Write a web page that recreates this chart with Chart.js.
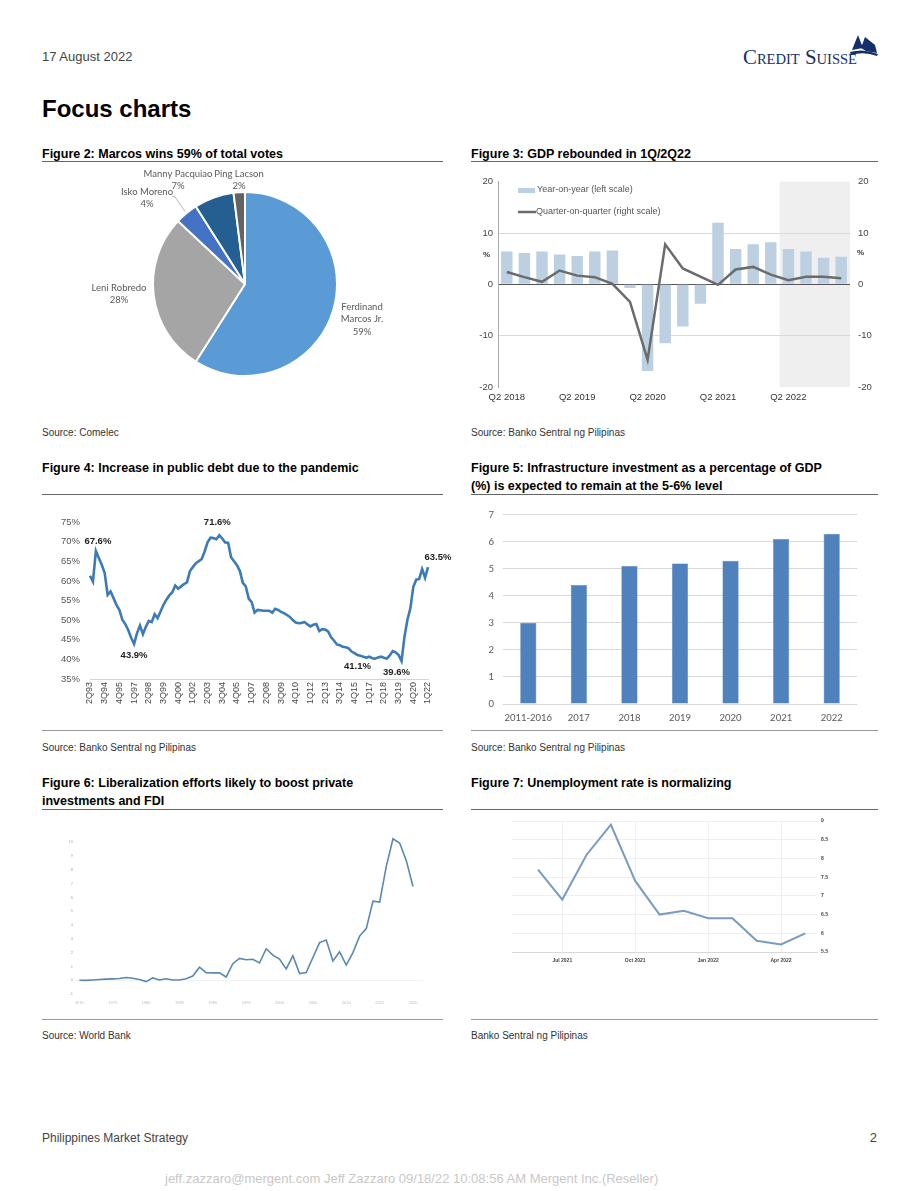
<!DOCTYPE html>
<html>
<head>
<meta charset="utf-8">
<script src="https://cdn.jsdelivr.net/npm/chart.js@4.4.0/dist/chart.umd.min.js"></script>
<style>
    body { margin: 0; background: #fff; font-family: "Liberation Sans", Arial, sans-serif; }
    #page { position: relative; width: 920px; height: 1191px; overflow: hidden; }
    .t { position: absolute; white-space: nowrap; }
    .fig { position: absolute; font-weight: bold; font-size: 12.5px; line-height: 18px; color: #000; white-space: nowrap; }
    .rule { position: absolute; height: 1px; background: #666; }
    .sep { position: absolute; height: 1px; background: #999; }
    .src { position: absolute; font-size: 10px; color: #333; white-space: nowrap; }
    canvas { position: absolute; }
</style>
</head>
<body>
<div id="page">
    <div class="t" style="left:42px;top:49px;font-size:13px;color:#444;">17 August 2022</div>
    <svg style="position:absolute;left:735px;top:30px;" width="150" height="42">
        <text x="8" y="34" font-family="Liberation Serif, serif" font-size="20" fill="#13306b" style="font-variant:small-caps" textLength="114" lengthAdjust="spacingAndGlyphs">Credit Suisse</text>
        <path d="M117 20 L123 5 L128 18 Z" fill="#13306b"/>
        <path d="M126 18 L130 7 L140 15 L142 23 L131 21 Z" fill="#13306b"/>
        <path d="M115 22 Q129 18 143 24 L142 26 Q129 21 116 25 Z" fill="#13306b"/>
    </svg>
    <div class="t" style="left:42px;top:95px;font-size:24px;font-weight:bold;color:#000;">Focus charts</div>

    <div class="fig" style="left:42px;top:145px;">Figure 2: Marcos wins 59% of total votes</div>
    <div class="rule" style="left:42px;top:161px;width:401px;"></div>
    <div class="fig" style="left:471px;top:145px;">Figure 3: GDP rebounded in 1Q/2Q22</div>
    <div class="rule" style="left:471px;top:161px;width:407px;"></div>
    <canvas id="pieChart" width="400" height="245" style="left:42px;top:165px;"></canvas>
    <canvas id="gdpChart" width="410" height="240" style="left:471px;top:168px;"></canvas>
    <div class="src" style="left:42px;top:427px;">Source: Comelec</div>
    <div class="src" style="left:471px;top:427px;">Source: Banko Sentral ng Pilipinas</div>

    <div class="fig" style="left:42px;top:459px;">Figure 4: Increase in public debt due to the pandemic</div>
    <div class="rule" style="left:42px;top:494px;width:401px;"></div>
    <div class="fig" style="left:471px;top:459px;">Figure 5: Infrastructure investment as a percentage of GDP<br>(%) is expected to remain at the 5-6% level</div>
    <div class="rule" style="left:471px;top:494px;width:407px;"></div>
    <canvas id="debtChart" width="420" height="225" style="left:42px;top:505px;"></canvas>
    <canvas id="infraChart" width="410" height="230" style="left:471px;top:500px;"></canvas>
    <div class="sep" style="left:42px;top:730px;width:401px;"></div>
    <div class="sep" style="left:471px;top:730px;width:407px;"></div>
    <div class="src" style="left:42px;top:742px;">Source: Banko Sentral ng Pilipinas</div>
    <div class="src" style="left:471px;top:742px;">Source: Banko Sentral ng Pilipinas</div>

    <div class="fig" style="left:42px;top:774px;">Figure 6: Liberalization efforts likely to boost private<br>investments and FDI</div>
    <div class="rule" style="left:42px;top:809px;width:401px;"></div>
    <div class="fig" style="left:471px;top:774px;">Figure 7: Unemployment rate is normalizing</div>
    <div class="rule" style="left:471px;top:809px;width:407px;"></div>
    <canvas id="fdiChart" width="400" height="190" style="left:42px;top:830px;"></canvas>
    <canvas id="unempChart" width="380" height="160" style="left:471px;top:812px;"></canvas>
    <div class="sep" style="left:42px;top:1019px;width:401px;"></div>
    <div class="sep" style="left:471px;top:1019px;width:407px;"></div>
    <div class="src" style="left:42px;top:1030px;">Source: World Bank</div>
    <div class="src" style="left:471px;top:1030px;">Banko Sentral ng Pilipinas</div>

    <div class="t" style="left:42px;top:1131px;font-size:12px;color:#444;">Philippines Market Strategy</div>
    <div class="t" style="right:43px;top:1130px;font-size:13px;color:#444;">2</div>
    <div class="t" style="left:165px;top:1171px;font-size:13px;color:#c8c8c8;">jeff.zazzaro@mergent.com Jeff Zazzaro 09/18/22 10:08:56 AM Mergent Inc.(Reseller)</div>
</div>

<script>
// Figure 2 - votes
const voteNames = ["Ferdinand Marcos Jr.", "Leni Robredo", "Isko Moreno", "Manny Pacquiao", "Ping Lacson"];
const voteShares = [59, 28, 4, 7, 2];

// Figure 3 - GDP
const gdpQuarters = ["Q2 2018", "Q3 2018", "Q4 2018", "Q1 2019", "Q2 2019", "Q3 2019", "Q4 2019", "Q1 2020",
    "Q2 2020", "Q3 2020", "Q4 2020", "Q1 2021", "Q2 2021", "Q3 2021", "Q4 2021", "Q1 2022",
    "Q2 2022", "Q3 2022", "Q4 2022", "Q1 2023"];
const gdpYoy = [6.4, 6.1, 6.4, 5.8, 5.5, 6.4, 6.6, -0.7, -16.9, -11.5, -8.2, -3.8, 12.0, 6.9, 7.8, 8.2, 6.9, 6.4, 5.2, 5.4];
const gdpQoq = [2.4, 1.4, 0.5, 2.7, 1.7, 1.4, 0.1, -3.4, -14.7, 7.8, 3.1, 1.5, -0.1, 2.9, 3.4, 1.9, 0.8, 1.5, 1.5, 1.2];
const gdpShadeFrom = "Q2 2022";

// Figure 4 - public debt, % of GDP, quarterly 2Q93..1Q22
const debtQuarters = [];
for (let k = 0; k < 116; k++) {
    const q = (1 + k) % 4 + 1;
    const yr = 1993 + Math.floor((1 + k) / 4);
    debtQuarters.push(q + "Q" + String(yr % 100).padStart(2, "0"));
}
const debtValues = [61.3, 59.8, 67.6, 65.8, 64.1, 62.0, 56.4, 57.3, 55.6, 53.9,
    52.6, 50.1, 49.0, 47.5, 45.5, 43.9, 46.7, 48.6, 46.4, 48.3,
    49.8, 49.5, 51.5, 50.5, 52.2, 53.9, 55.2, 56.3, 57.1, 58.8,
    58.0, 58.6, 59.2, 59.6, 62.5, 63.5, 64.5, 65.0, 65.6, 67.5,
    69.8, 71.0, 70.9, 70.6, 71.6, 70.8, 69.8, 69.7, 66.0, 65.0,
    64.0, 62.5, 59.5, 58.6, 55.5, 54.6, 51.9, 52.6, 52.5, 52.4,
    52.4, 52.4, 51.9, 52.9, 52.6, 52.1, 51.8, 51.3, 50.8, 50.0,
    49.4, 49.2, 49.3, 49.5, 48.9, 48.4, 48.8, 49.0, 47.2, 47.7,
    47.6, 47.1, 45.7, 44.8, 43.8, 43.6, 43.2, 43.1, 42.8, 42.0,
    41.6, 41.1, 40.9, 40.7, 40.4, 40.7, 40.3, 40.2, 40.5, 40.7,
    40.4, 40.2, 41.0, 42.1, 41.8, 41.1, 39.6, 45.8, 50.1, 53.0,
    58.5, 60.3, 60.5, 63.0, 60.8, 63.5];
const debtMarked = [2, 15, 44, 91, 106, 115];

// Figure 5 - infrastructure spending, % of GDP
const infraYears = ["2011-2016", "2017", "2018", "2019", "2020", "2021", "2022"];
const infraShare = [3.0, 4.4, 5.1, 5.2, 5.3, 6.1, 6.3];

// Figure 6 - FDI net inflows (US$ bn)
const fdiYears = [];
for (let yr = 1970; yr <= 2020; yr++) fdiYears.push(yr);
const fdiValues = [0.0, -0.01, 0.02, 0.05, 0.08, 0.1, 0.12, 0.2, 0.14, 0.05,
    -0.1, 0.17, 0.02, 0.1, 0.01, 0.01, 0.1, 0.3, 0.94, 0.55,
    0.53, 0.54, 0.23, 1.2, 1.58, 1.48, 1.52, 1.25, 2.28, 1.82,
    1.53, 0.82, 1.77, 0.48, 0.55, 1.65, 2.73, 2.92, 1.39, 2.06,
    1.1, 2.0, 3.2, 3.74, 5.73, 5.66, 8.25, 10.26, 9.95, 8.67,
    6.8];
const fdiTickYears = [1970, 1975, 1980, 1985, 1990, 1995, 2000, 2005, 2010, 2015, 2020];

// Figure 7 - unemployment rate
const unempMonths = ["Jun 2021", "Jul 2021", "Aug 2021", "Sep 2021", "Oct 2021", "Nov 2021",
    "Dec 2021", "Jan 2022", "Feb 2022", "Mar 2022", "Apr 2022", "May 2022"];
const unempRate = [7.7, 6.9, 8.1, 8.9, 7.4, 6.5, 6.6, 6.4, 6.4, 5.8, 5.7, 6.0];
const unempTickMonths = ["Jul 2021", "Oct 2021", "Jan 2022", "Apr 2022"];

Chart.defaults.font.family = '"Liberation Sans", Arial, sans-serif';
Chart.defaults.animation = false;
Chart.defaults.responsive = false;
Chart.defaults.plugins.legend.display = false;
Chart.defaults.plugins.tooltip.enabled = false;

// ---------- Figure 2: pie ----------
const pieLabels = {
    id: "pieLabels",
    afterDraw(chart) {
        const ctx = chart.ctx;
        const arcs = chart.getDatasetMeta(0).data;
        const lines = [["Ferdinand", "Marcos Jr."], ["Leni Robredo"], ["Isko Moreno"], ["Manny Pacquiao"], ["Ping Lacson"]];
        const offsets = [[117, 35], [-126, 10], [-98, -86], [-67, -104], [-6, -104]];
        ctx.save();
        ctx.font = '9.5px Lato, "Liberation Sans", sans-serif';
        ctx.fillStyle = "#595959";
        ctx.textAlign = "center";
        ctx.textBaseline = "middle";
        arcs.forEach((arc, i) => {
            const txt = lines[i].concat([voteShares[i] + "%"]);
            const cx = arc.x + offsets[i][0];
            const cy = arc.y + offsets[i][1] - (txt.length - 1) * 6.25;
            txt.forEach((s, j) => ctx.fillText(s, cx, cy + j * 12.5));
        });
        // leader line for the small slice
        const a = arcs[2];
        const mid = (a.startAngle + a.endAngle) / 2;
        ctx.strokeStyle = "#a6a6a6";
        ctx.lineWidth = 0.8;
        ctx.beginPath();
        ctx.moveTo(a.x + Math.cos(mid) * (a.outerRadius + 2), a.y + Math.sin(mid) * (a.outerRadius + 2));
        ctx.lineTo(a.x - 70, a.y - 87);
        ctx.lineTo(a.x - 73, a.y - 88);
        ctx.stroke();
        ctx.restore();
    }
};

new Chart(document.getElementById("pieChart"), {
    type: "pie",
    data: {
        labels: voteNames,
        datasets: [{
            data: voteShares,
            backgroundColor: ["#5b9bd5", "#a5a5a5", "#4472c4", "#255e91", "#636363"],
            borderColor: "#fff",
            borderWidth: 2
        }]
    },
    options: {
        layout: { padding: { left: 110, right: 104, top: 26, bottom: 33 } }
    },
    plugins: [pieLabels]
});

// ---------- Figure 3: GDP ----------
const gdpExtras = {
    id: "gdpExtras",
    beforeDraw(chart) {
        const { ctx, chartArea, scales } = chart;
        const k = gdpQuarters.indexOf(gdpShadeFrom);
        const x0 = (scales.x.getPixelForValue(k - 1) + scales.x.getPixelForValue(k)) / 2;
        ctx.save();
        ctx.fillStyle = "#efefef";
        ctx.fillRect(x0, chartArea.top, chartArea.right - x0, chartArea.bottom - chartArea.top);
        ctx.restore();
    },
    afterDraw(chart) {
        const ctx = chart.ctx;
        ctx.save();
        ctx.fillStyle = "#bcd0e2";
        ctx.fillRect(47, 20, 17, 5);
        ctx.strokeStyle = "#6b6b6b";
        ctx.lineWidth = 2.5;
        ctx.beginPath();
        ctx.moveTo(47, 44);
        ctx.lineTo(65, 44);
        ctx.stroke();
        ctx.fillStyle = "#555";
        ctx.font = '9px "Liberation Sans", Arial, sans-serif';
        ctx.textBaseline = "middle";
        ctx.fillText("Year-on-year (left scale)", 66, 22);
        ctx.fillText("Quarter-on-quarter (right scale)", 65, 44);
        ctx.font = 'bold 8px "Liberation Sans", Arial, sans-serif';
        ctx.fillStyle = "#333";
        ctx.fillText("%", 12, 87);
        ctx.fillText("%", 386, 85);
        ctx.restore();
    }
};

new Chart(document.getElementById("gdpChart"), {
    data: {
        labels: gdpQuarters,
        datasets: [
            {
                type: "line",
                label: "Quarter-on-quarter (right scale)",
                data: gdpQoq,
                yAxisID: "y1",
                borderColor: "#6b6b6b",
                borderWidth: 2.5,
                pointRadius: 0,
                tension: 0,
                order: 0
            },
            {
                type: "bar",
                label: "Year-on-year (left scale)",
                data: gdpYoy,
                yAxisID: "y",
                backgroundColor: "#bcd0e2",
                barPercentage: 0.65,
                categoryPercentage: 1,
                order: 1
            }
        ]
    },
    options: {
        layout: { padding: { top: 9, left: 0, right: 0, bottom: 0 } },
        scales: {
            x: {
                grid: { display: false, drawTicks: false },
                border: { display: false },
                ticks: {
                    autoSkip: false, maxRotation: 0, padding: 5,
                    color: "#333", font: { size: 9.5 },
                    callback: (v, i) => (i % 4 === 0 ? gdpQuarters[i] : null)
                },
                afterFit: s => { s.height = 21; }
            },
            y: {
                position: "left", min: -20, max: 20,
                ticks: { stepSize: 10, padding: 5, color: "#444", font: { size: 9.5 } },
                grid: {
                    drawTicks: false,
                    color: c => (c.tick.value === 0 ? "#555" : (Math.abs(c.tick.value) === 20 ? "rgba(0,0,0,0)" : "#dadada"))
                },
                border: { color: "#aaa" },
                afterFit: s => { s.width = 27; }
            },
            y1: {
                position: "right", min: -20, max: 20,
                ticks: { stepSize: 10, padding: 8, color: "#444", font: { size: 9.5 } },
                grid: { display: false, drawTicks: false },
                border: { display: false },
                afterFit: s => { s.width = 31; }
            }
        }
    },
    plugins: [gdpExtras]
});

// ---------- Figure 4: public debt ----------
const debtNotes = {
    id: "debtNotes",
    afterDatasetsDraw(chart) {
        const { ctx, scales } = chart;
        const shift = { 2: [2, -10], 15: [0, 11], 44: [-2, -13], 91: [0, 11], 106: [-5, 11], 115: [10, -10] };
        ctx.save();
        ctx.font = 'bold 9.5px "Liberation Sans", Arial, sans-serif';
        ctx.fillStyle = "#222";
        ctx.textAlign = "center";
        ctx.textBaseline = "middle";
        debtMarked.forEach(i => {
            const x = scales.x.getPixelForValue(i) + shift[i][0];
            const y = scales.y.getPixelForValue(debtValues[i]) + shift[i][1];
            ctx.fillText(debtValues[i].toFixed(1) + "%", x, y);
        });
        ctx.restore();
    }
};

new Chart(document.getElementById("debtChart"), {
    type: "line",
    data: {
        labels: debtQuarters,
        datasets: [{
            data: debtValues,
            borderColor: "#3d7ab8",
            borderWidth: 2.6,
            pointRadius: 0,
            tension: 0
        }]
    },
    options: {
        layout: { padding: { top: 17, right: 34, left: 0, bottom: 0 } },
        scales: {
            x: {
                grid: { display: false, drawTicks: false },
                border: { color: "#d4d4d4", dash: [2, 2] },
                ticks: {
                    autoSkip: false, minRotation: 90, maxRotation: 90, padding: 3,
                    color: "#444", font: { size: 9 },
                    callback: (v, i) => (i % 5 === 0 ? debtQuarters[i] : null)
                },
                afterFit: s => { s.height = 51; }
            },
            y: {
                min: 35, max: 75,
                ticks: { stepSize: 5, padding: 10, color: "#555", font: { size: 9.5 }, callback: v => v + "%" },
                grid: { display: false, drawTicks: false },
                border: { display: false },
                afterFit: s => { s.width = 48; }
            }
        }
    },
    plugins: [debtNotes]
});

// ---------- Figure 5: infrastructure ----------
new Chart(document.getElementById("infraChart"), {
    type: "bar",
    data: {
        labels: infraYears,
        datasets: [{
            data: infraShare,
            backgroundColor: "#4f81bd",
            borderColor: "#4a7ab3",
            borderWidth: 0.5,
            barPercentage: 0.32,
            categoryPercentage: 1
        }]
    },
    options: {
        layout: { padding: { top: 9, right: 24, left: 0, bottom: 0 } },
        scales: {
            x: {
                grid: { display: false, drawTicks: false },
                border: { display: false },
                ticks: {
                    autoSkip: false, minRotation: 0, maxRotation: 0, padding: 8,
                    color: "#595959", font: { family: 'Lato, "Liberation Sans", sans-serif', size: 9.5 }
                },
                afterFit: s => { s.height = 26; }
            },
            y: {
                min: 0, max: 7,
                ticks: { stepSize: 1, padding: 9, color: "#595959", font: { family: 'Lato, "Liberation Sans", sans-serif', size: 9.5 } },
                grid: { color: "#d9d9d9", drawTicks: false },
                border: { display: false },
                afterFit: s => { s.width = 32; }
            }
        }
    }
});

// ---------- Figure 6: FDI ----------
new Chart(document.getElementById("fdiChart"), {
    type: "line",
    data: {
        datasets: [{
            data: fdiYears.map((yr, i) => ({ x: yr, y: fdiValues[i] })),
            borderColor: "#5a88b0",
            borderWidth: 1.6,
            pointRadius: 0,
            tension: 0
        }]
    },
    options: {
        layout: { padding: { top: 4, right: 19, left: 0, bottom: 0 } },
        scales: {
            x: {
                type: "linear", min: 1969.5, max: 2021.5,
                afterBuildTicks: s => { s.ticks = fdiTickYears.map(v => ({ value: v })); },
                grid: { display: false, drawTicks: false },
                border: { display: false },
                ticks: { padding: 6, color: "#bbb", font: { size: 4 }, callback: v => String(v) },
                afterFit: s => { s.height = 26; }
            },
            y: {
                min: -1, max: 10.5,
                afterBuildTicks: s => { s.ticks = s.ticks.filter(t => t.value <= 10); },
                ticks: { stepSize: 1, padding: 3, color: "#aaa", font: { size: 4 } },
                grid: { drawTicks: false, color: c => (c.tick.value === 0 ? "#eef2f5" : "rgba(0,0,0,0)") },
                border: { display: false },
                afterFit: s => { s.width = 34; }
            }
        }
    }
});

// ---------- Figure 7: unemployment ----------
new Chart(document.getElementById("unempChart"), {
    type: "line",
    data: {
        datasets: [{
            data: unempRate.map((v, i) => ({ x: i, y: v })),
            borderColor: "#7a9cc0",
            borderWidth: 2,
            pointRadius: 0,
            tension: 0
        }]
    },
    options: {
        layout: { padding: { top: 9, left: 41, right: 0, bottom: 0 } },
        scales: {
            x: {
                type: "linear", min: -1.07, max: 11.48,
                afterBuildTicks: s => { s.ticks = unempTickMonths.map(m => ({ value: unempMonths.indexOf(m) })); },
                grid: { color: "#f0f0f0", drawTicks: false },
                border: { color: "#d8d8d8" },
                ticks: {
                    padding: 6, color: "#444", font: { size: 5, weight: "bold" },
                    callback: v => unempMonths[v]
                },
                afterFit: s => { s.height = 20; }
            },
            y: {
                position: "right", min: 5.5, max: 9,
                ticks: { stepSize: 0.5, padding: 4, color: "#444", font: { size: 5, weight: "bold" }, callback: v => String(v) },
                grid: { color: "#efefef", drawTicks: false },
                border: { display: false },
                afterFit: s => { s.width = 34; }
            }
        }
    }
});
</script>
</body>
</html>
